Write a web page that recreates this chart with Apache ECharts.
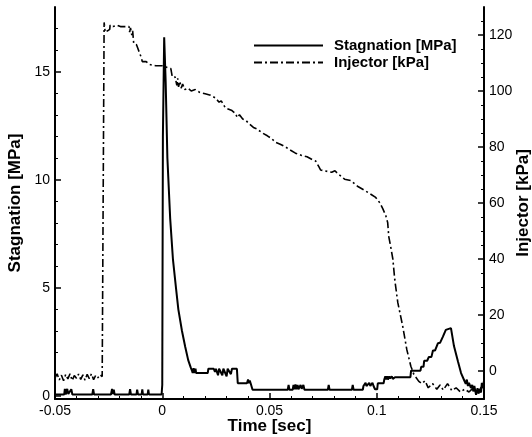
<!DOCTYPE html>
<html><head><meta charset="utf-8">
<script src="https://cdn.jsdelivr.net/npm/echarts@6/dist/echarts.min.js"></script>
<style>html,body{margin:0;padding:0;background:#fff}#c{width:532px;height:437px}</style>
</head><body><div id="c"></div>
<script>
// Stagnation pressure [MPa] vs time [sec]
const stagTime = [-0.05,-0.0457,-0.0454,-0.0450,-0.0443,-0.0438,-0.0424,-0.0419,-0.0326,-0.0322,-0.0318,-0.0239,-0.0234,-0.0229,-0.0226,-0.0222,-0.0154,-0.0150,-0.0146,-0.0120,-0.0117,-0.0113,-0.0096,-0.0093,-0.0090,-0.0068,-0.0065,-0.0062,-0.0003,
0.0000,0.0003,0.0009,0.0016,0.0024,0.0037,0.0050,0.0064,0.0075,0.0092,0.0107,0.0121,0.0133,0.0139,0.0142,0.0146,0.0150,0.0155,0.0158,0.0190,0.0212,0.0215,0.0240,0.0246,0.0250,0.0260,0.0265,0.0280,0.0285,0.0300,0.0305,0.0320,0.0325,0.0348,0.0352,0.0395,0.0400,0.0404,0.0408,0.0412,0.0418,0.0421,
0.0585,0.0589,0.0593,0.0608,0.0612,0.0616,0.0621,0.0625,0.0631,0.0635,0.0645,0.0650,0.0658,0.0663,0.0772,0.0776,0.0780,0.0884,0.0888,0.0892,0.0935,0.0938,0.0945,0.0948,0.0952,0.0965,0.0970,0.0980,0.0985,0.0992,0.1002,0.1005,0.1032,0.1035,0.1040,0.1044,0.1048,0.1052,0.1058,0.1062,0.1070,0.1075,0.1085,0.1157,0.1160,0.1204,0.1207,0.1218,0.1221,0.1235,0.1243,0.1255,0.1262,0.1272,0.1285,0.1295,0.1308,0.1314,0.1322,0.1326,0.1346,0.1360,0.1379,0.1393,0.1407,0.1415,0.1420,0.1425,0.1430,0.1439,0.1445,0.1450,0.1455,0.1463,0.1470,0.1475,0.1480,0.1486,0.1490,0.1495,0.1500];
const stagValue = [0.06,0.06,0.32,0.06,0.32,0.08,0.30,0.06,0.06,0.30,0.06,0.06,0.32,0.08,0.28,0.06,0.06,0.30,0.06,0.06,0.28,0.06,0.06,0.30,0.06,0.06,0.28,0.06,0.06,
0.5,12.0,16.6,14.5,11.0,8.2,6.3,5.0,4.0,3.0,2.27,1.65,1.3,1.15,1.05,1.28,1.05,1.25,1.05,1.05,1.05,1.25,1.25,1.1,1.25,0.95,1.25,0.95,1.25,0.9,1.25,1.0,1.25,1.25,0.58,0.58,0.75,0.58,0.7,0.58,0.58,0.28,
0.28,0.5,0.28,0.28,0.5,0.3,0.52,0.3,0.5,0.3,0.5,0.32,0.5,0.28,0.28,0.5,0.28,0.28,0.5,0.28,0.28,0.45,0.45,0.6,0.45,0.6,0.45,0.6,0.45,0.3,0.3,0.58,0.58,0.75,0.9,0.75,0.9,0.75,0.9,0.8,0.9,0.78,0.86,0.86,1.16,1.16,1.34,1.34,1.62,1.62,1.8,1.8,2.1,2.1,2.43,2.45,2.73,2.75,3.05,3.13,3.13,2.3,1.57,1.05,0.73,0.55,0.75,0.45,0.6,0.36,0.5,0.2,0.45,0.05,0.35,0.1,0.3,0.15,0.6,0.35,0.7];

// Injector pressure [kPa] vs time [sec]
const injTime = [-0.050,-0.049,-0.048,-0.047,-0.046,-0.045,-0.044,-0.043,-0.042,-0.041,-0.040,-0.039,-0.038,-0.037,-0.036,-0.035,-0.034,-0.033,-0.032,-0.031,-0.030,-0.029,-0.028,-0.0272,
-0.0271,-0.0268,-0.0266,-0.0255,-0.0245,-0.0243,-0.0230,-0.0210,-0.0195,-0.0170,-0.0155,-0.0152,-0.0148,-0.0142,-0.0138,-0.0133,-0.0120,-0.0112,-0.0098,-0.0093,-0.0090,-0.0075,-0.0060,-0.0030,0.0000,0.0020,0.0040,0.0047,0.0060,0.0068,0.0072,0.0076,0.0082,0.0088,0.0095,0.0105,0.0120,0.0135,0.0154,0.0175,0.0200,0.0225,0.0248,0.0265,0.0275,0.0294,0.0310,0.0325,0.0341,0.0350,0.0360,0.0375,0.0390,0.0402,0.0425,0.0440,0.0467,0.0490,0.0510,0.0528,0.0550,0.0575,0.0595,0.0621,0.0650,0.0675,0.0700,0.0715,0.0730,0.0738,0.0755,0.0790,0.0805,0.0818,0.0835,0.0850,0.0879,0.0910,0.0939,0.0965,0.0995,0.1015,0.1028,0.1042,0.1051,0.1056,0.1066,0.1075,0.1084,0.1098,0.1121,0.1140,0.1159,0.1173,0.1196,0.1210,0.1225,0.1240,0.1260,0.1280,0.1295,0.1310,0.1330,0.1350,0.1370,0.1390,0.1410,0.1430,0.1450,0.1470,0.1485,0.1500];
const injValue = [-2.5,-1.0,-3.2,-1.5,-3.5,-1.2,-2.8,-1.0,-3.4,-1.6,-2.6,-1.1,-3.0,-1.4,-3.3,-1.2,-2.7,-1.0,-3.1,-1.5,-2.4,-1.3,-2.0,-2.0,
124.5,124.5,121,121.5,122,123.5,123,123.5,123,123,123,121,122.5,120,121.5,117,116.5,116,112,110.5,110,110.5,109.5,109,109,108.5,108,105,105,102,104.5,101.5,103.5,101,102.5,100.5,101,100,100.5,99.5,99,98.5,97.5,96,96.5,94,93.5,93,92,90.5,91.5,90,89.5,88.5,87,86.5,85,84,83,81.7,81,80,79,77.8,77,76.5,75.5,75,73,71.8,71.5,71,71.5,70.5,69.5,68.5,68,66,64.7,63.5,62,60,58,55.5,53,48,44,40,32.6,24.5,16,7.7,1.7,-1.2,-3.7,-4.5,-3.5,-6,-4.5,-6.5,-5,-6.8,-4.5,-7,-6,-7.5,-6.5,-7.5,-6,-8,-6,-5];

const xTicks = [-0.05, 0, 0.05, 0.1, 0.15];
const leftTicks = [0, 5, 10, 15];
const leftMinor = [1,2,3,4,6,7,8,9,11,12,13,14,16,17];
const rightTicks = [0, 20, 40, 60, 80, 100, 120];
const rightMinor = [-5,5,10,15,25,30,35,45,50,55,65,70,75,85,90,95,105,110,115,125];

const FONT = "'Liberation Sans', Arial, sans-serif";
const stagData = stagTime.map((t, i) => [t, stagValue[i]]);
const injData = injTime.map((t, i) => [t, injValue[i]]);

const chart = echarts.init(document.getElementById('c'), null, {renderer: 'canvas'});
const lbl = {color: '#000', fontFamily: FONT, fontSize: 14};
const nameStyle = {color: '#000', fontFamily: FONT, fontSize: 17, fontWeight: 'bold'};
chart.setOption({
  animation: false,
  backgroundColor: '#fff',
  grid: {left: 55, right: 48, top: 7, bottom: 38, containLabel: false, outerBoundsMode: 'none'},
  legend: {
    orient: 'vertical', left: 253, top: 38, padding: 0, itemGap: 2, itemWidth: 69, itemHeight: 14,
    itemStyle: {opacity: 0},
    textStyle: {color: '#000', fontFamily: FONT, fontSize: 15, fontWeight: 'bold', padding: [0,0,0,6]},
    data: ['Stagnation [MPa]', 'Injector [kPa]']
  },
  xAxis: {
    type: 'value', min: -0.05, max: 0.15, interval: 0.05,
    name: 'Time [sec]', nameLocation: 'middle', nameGap: 19, nameMoveOverlap: false, nameTextStyle: nameStyle,
    axisLine: {onZero: false, lineStyle: {color: '#000', width: 2}},
    axisTick: {inside: true, length: 6, customValues: xTicks, lineStyle: {color: '#000', width: 1.5}},
    minorTick: {show: true, splitNumber: 5, length: 3, lineStyle: {color: '#000', width: 1}},
    axisLabel: Object.assign({margin: 5, formatter: v => String(+v.toFixed(2))}, lbl),
    splitLine: {show: false}
  },
  yAxis: [
    {
      type: 'value', position: 'left', min: -0.15, max: 18,
      name: 'Stagnation [MPa]', nameLocation: 'middle', nameGap: 31, nameMoveOverlap: false, nameTextStyle: nameStyle,
      axisLine: {show: true, onZero: false, lineStyle: {color: '#000', width: 2}},
      axisTick: {inside: true, length: 6, customValues: leftTicks, lineStyle: {color: '#000', width: 1.5}},
      axisLabel: Object.assign({margin: 5, customValues: leftTicks}, lbl),
      splitLine: {show: false}
    },
    {
      type: 'value', position: 'left', min: -0.15, max: 18,
      axisLine: {show: false, onZero: false},
      axisTick: {show: true, inside: true, length: 3, customValues: leftMinor, lineStyle: {color: '#000', width: 1}},
      axisLabel: {show: false},
      splitLine: {show: false}
    },
    {
      type: 'value', position: 'right', min: -10, max: 130,
      name: 'Injector [kPa]', nameLocation: 'middle', nameGap: 31, nameMoveOverlap: false, nameTextStyle: nameStyle,
      axisLine: {show: true, onZero: false, lineStyle: {color: '#000', width: 2}},
      axisTick: {inside: true, length: 6, customValues: rightTicks, lineStyle: {color: '#000', width: 1.5}},
      axisLabel: Object.assign({margin: 5, customValues: rightTicks}, lbl),
      splitLine: {show: false}
    },
    {
      type: 'value', position: 'right', min: -10, max: 130,
      axisLine: {show: false, onZero: false},
      axisTick: {show: true, inside: true, length: 3, customValues: rightMinor, lineStyle: {color: '#000', width: 1}},
      axisLabel: {show: false},
      splitLine: {show: false}
    }
  ],
  series: [
    {
      name: 'Stagnation [MPa]', type: 'line', yAxisIndex: 0, data: stagData,
      symbol: 'none', lineStyle: {color: '#000', width: 2}, itemStyle: {color: '#000'}, clip: true
    },
    {
      name: 'Injector [kPa]', type: 'line', yAxisIndex: 2, data: injData,
      symbol: 'none', lineStyle: {color: '#000', width: 1.6, type: [8, 3, 2, 3]}, itemStyle: {color: '#000'}, clip: true
    }
  ]
});
</script></body></html>
